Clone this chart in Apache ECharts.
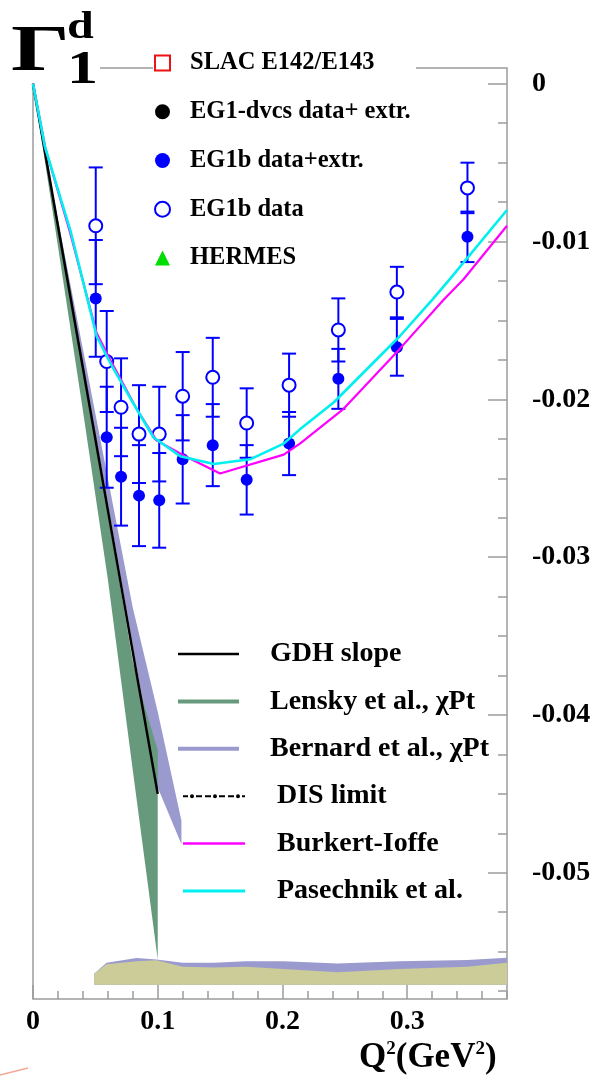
<!DOCTYPE html>
<html><head><meta charset="utf-8">
<script src="https://cdn.jsdelivr.net/npm/echarts@6.0.0/dist/echarts.min.js"></script>
<style>html,body{margin:0;padding:0;background:#fff}#c{width:601px;height:1076px}</style>
</head><body><div id="c"></div>
<script>
// ---------------- data ----------------
const q2Bins      = [0.0503, 0.0591, 0.0706, 0.0850, 0.1012, 0.1200, 0.1441, 0.1713, 0.2053, 0.2448, 0.2917, 0.3483];
const eg1bData    = [-0.0090, -0.0176, -0.0205, -0.0222, -0.0222, -0.0198, -0.0186, -0.0215, -0.0191, -0.0156, -0.0132, -0.0066];
const eg1bDataErr = [0.0037, 0.0032, 0.0031, 0.0031, 0.0030, 0.0028, 0.0025, 0.0022, 0.0020, 0.0020, 0.0016, 0.0016];
const eg1bExtr    = [-0.0136, -0.0224, -0.0249, -0.0261, -0.0264, -0.0238, -0.0229, -0.0251, -0.0228, -0.0187, -0.0167, -0.0097];
const eg1bExtrErr = [0.0037, 0.0032, 0.0031, 0.0032, 0.0030, 0.0028, 0.0026, 0.0022, 0.0020, 0.0019, 0.0018, 0.0016];

const gdhQ2  = [0, 0.1];
const gdhVal = [0, -0.0450];

const lenskyQ2   = [0, 0.02, 0.04, 0.06, 0.08, 0.09, 0.1];
const lenskyLow  = [0, -0.0103, -0.0207, -0.0314, -0.0435, -0.0495, -0.0555];
const lenskyHigh = [0, -0.0088, -0.0178, -0.0272, -0.0366, -0.0396, -0.0422];

const bernardQ2   = [0, 0.02, 0.04, 0.06, 0.08, 0.1, 0.119];
const bernardLow  = [0, -0.0090, -0.0178, -0.0266, -0.0356, -0.0446, -0.0482];
const bernardHigh = [0, -0.0086, -0.0168, -0.0250, -0.0332, -0.0398, -0.0467];

const burkertQ2  = [0, 0.01, 0.03, 0.051, 0.062, 0.083, 0.099, 0.122, 0.150, 0.201, 0.214, 0.249, 0.294, 0.329, 0.345, 0.38];
const burkertVal = [0, -0.0041, -0.0095, -0.0158, -0.0175, -0.0206, -0.0226, -0.0236, -0.0247, -0.0235, -0.0228, -0.0206, -0.0168, -0.0137, -0.0124, -0.0090];

const pasechnikQ2  = [0, 0.0096, 0.03, 0.051, 0.062, 0.080, 0.0965, 0.118, 0.145, 0.174, 0.201, 0.214, 0.241, 0.294, 0.320, 0.334, 0.38];
const pasechnikVal = [0, -0.0040, -0.0093, -0.0160, -0.0177, -0.0202, -0.0224, -0.0236, -0.0241, -0.0238, -0.0228, -0.0219, -0.0202, -0.0160, -0.0137, -0.0124, -0.0080];

const sysQ2       = [0.049, 0.059, 0.083, 0.099, 0.12, 0.145, 0.171, 0.201, 0.244, 0.294, 0.348, 0.38];
const sysBaseline = -0.0571;
const sysOlive    = [-0.0564, -0.0558, -0.0556, -0.05555, -0.05595, -0.0560, -0.05595, -0.0561, -0.0563, -0.0561, -0.05595, -0.0557];
const sysLavender = [-0.0564, -0.0557, -0.0554, -0.0555, -0.0557, -0.0557, -0.0556, -0.0556, -0.05575, -0.0556, -0.05553, -0.05538];

const legendMarkers = ['SLAC E142/E143', 'EG1-dvcs data+ extr.', 'EG1b data+extr.', 'EG1b data', 'HERMES'];
const legendLinesA  = ['GDH slope', 'Lensky et al., \u03C7Pt', 'Bernard et al., \u03C7Pt'];
const legendLinesB  = ['DIS limit', 'Burkert-Ioffe', 'Pasechnik et al.'];

// ---------------- layout / style ----------------
const SERIF = '"Liberation Serif", "DejaVu Serif", serif';
const AXC = '#9c9c9c';
const BLUE = '#0000ff', GREEN = '#679a7d', LAV = '#9a9ace', OLIVE = '#cccc99';
const MAG = '#ff00ff', CYAN = '#00f0f0';
const L = 33, R = 507, T = 68, B = 999;
const X_MIN = 0, X_MAX = 0.38, Y_MIN = -0.058, Y_MAX = 0.001;
function yPix(v) { return T + (Y_MAX - v) / (Y_MAX - Y_MIN) * (B - T); }

const zip = (a, b) => a.map((x, i) => [x, b[i]]);

function band(name, xs, lo, hi, color) {
  const low = i => (typeof lo === 'number' ? lo : lo[i]);
  return {
    type: 'custom', name: name, coordinateSystem: 'cartesian2d', xAxisIndex: 0, yAxisIndex: 0,
    itemStyle: { color: color, opacity: 1 }, silent: true,
    data: xs.map((x, i) => [x, low(i), hi[i]]),
    encode: { x: 0, y: [1, 2] },
    renderItem: function (params, api) {
      if (params.dataIndex !== 0) return null;
      const pts = [];
      for (let i = 0; i < xs.length; i++) pts.push(api.coord([xs[i], hi[i]]));
      for (let i = xs.length - 1; i >= 0; i--) pts.push(api.coord([xs[i], low(i)]));
      return { type: 'polygon', shape: { points: pts }, style: { fill: color } };
    }
  };
}
function errBars(name, xs, ys, es) {
  return {
    type: 'custom', name: name, coordinateSystem: 'cartesian2d', xAxisIndex: 0, yAxisIndex: 0, silent: true,
    itemStyle: { color: BLUE },
    data: xs.map((x, i) => [x, ys[i], es[i]]),
    encode: { x: 0, y: 1 },
    renderItem: function (params, api) {
      const x = api.value(0), y = api.value(1), e = api.value(2);
      const t = api.coord([x, y + e]), b = api.coord([x, y - e]);
      const w = 7, st = { stroke: BLUE, lineWidth: 2 };
      return { type: 'group', children: [
        { type: 'line', shape: { x1: t[0], y1: t[1], x2: b[0], y2: b[1] }, style: st },
        { type: 'line', shape: { x1: t[0] - w, y1: t[1], x2: t[0] + w, y2: t[1] }, style: st },
        { type: 'line', shape: { x1: b[0] - w, y1: b[1], x2: b[0] + w, y2: b[1] }, style: st }
      ]};
    }
  };
}
const disPath = 'path://M0,1H5V3H0Z M7,2A2,2 0 1 0 11,2A2,2 0 1 0 7,2Z M13,1H19V3H13Z M22,1H28V3H22Z M30,2A2,2 0 1 0 34,2A2,2 0 1 0 30,2Z M36,1H42V3H36Z M45,1H51V3H45Z M53,2A2,2 0 1 0 57,2A2,2 0 1 0 53,2Z M59,1H62V3H59Z';

const textBase = { fontFamily: SERIF, fontWeight: 'bold', color: '#000' };
const noLine = { show: false, onZero: false };

const option = {
  animation: false,
  grid: [
    { left: L, top: T, width: R - L, height: B - T, show: true, borderColor: AXC, borderWidth: 1.5, backgroundColor: 'transparent', outerBoundsMode: 'none', containLabel: false },
    { left: L, width: R - L, top: yPix(0), height: yPix(-0.05) - yPix(0), show: false, outerBoundsMode: 'none', containLabel: false },
    { left: L, width: R - L, top: yPix(0), height: yPix(-0.0575) - yPix(0), show: false, outerBoundsMode: 'none', containLabel: false }
  ],
  xAxis: [
    { gridIndex: 0, type: 'value', position: 'bottom', min: X_MIN, max: X_MAX, interval: 0.02,
      axisLine: noLine, splitLine: { show: false }, axisLabel: { show: false },
      axisTick: { show: true, inside: true, length: 8, lineStyle: { color: AXC, width: 1.5 } } },
    { gridIndex: 0, type: 'value', position: 'bottom', min: X_MIN, max: X_MAX, interval: 0.1,
      axisLine: noLine, splitLine: { show: false },
      axisTick: { show: true, inside: true, length: 14, lineStyle: { color: AXC, width: 1.5 } },
      axisLabel: Object.assign({ show: true, margin: 9, fontSize: 28, showMaxLabel: false, showMinLabel: true,
        formatter: v => (Math.abs(v) < 1e-9 ? '0' : v.toFixed(1)) }, textBase) },
    { gridIndex: 1, type: 'value', min: 0, max: 1, show: false, axisLine: noLine },
    { gridIndex: 2, type: 'value', min: 0, max: 1, show: false, axisLine: noLine }
  ],
  yAxis: [
    { gridIndex: 0, type: 'value', min: Y_MIN, max: Y_MAX, show: false, axisLine: noLine },
    { gridIndex: 1, type: 'value', position: 'right', min: -0.05, max: 0, interval: 0.01,
      axisLine: noLine, splitLine: { show: false },
      axisTick: { show: true, inside: true, length: 19, lineStyle: { color: AXC, width: 1.5 } },
      axisLabel: Object.assign({ show: true, margin: 25, fontSize: 28,
        formatter: v => (Math.abs(v) < 1e-9 ? '0' : v.toFixed(2)) }, textBase) },
    { gridIndex: 2, type: 'value', position: 'right', min: -0.0575, max: 0, interval: 0.0025,
      axisLine: noLine, splitLine: { show: false }, axisLabel: { show: false },
      axisTick: { show: true, inside: true, length: 9, lineStyle: { color: AXC, width: 1.5 } } }
  ],
  legend: [
    { orient: 'vertical', left: 154, top: 49, padding: 0, itemWidth: 15, itemHeight: 15, itemGap: 20.75,
      selectedMode: false,
      textStyle: Object.assign({ fontSize: 24.5, lineHeight: 28, padding: [0, 0, 0, 15] }, textBase),
      data: legendMarkers },
    { orient: 'vertical', left: 178, top: 639, padding: 0, itemWidth: 61, itemHeight: 14, itemGap: 17.4,
      selectedMode: false,
      textStyle: Object.assign({ fontSize: 28, lineHeight: 30, padding: [0, 0, 0, 26] }, textBase),
      data: [
        { name: legendLinesA[0], icon: 'path://M0,0H61V2.5H0Z', itemStyle: { color: '#000', opacity: 1 } },
        { name: legendLinesA[1], icon: 'path://M0,0H61V4H0Z', itemStyle: { color: GREEN, opacity: 1 } },
        { name: legendLinesA[2], icon: 'path://M0,0H61V4H0Z', itemStyle: { color: LAV, opacity: 1 } }
      ] },
    { orient: 'vertical', left: 183, top: 639 + 3 * 47.4, padding: 0, itemWidth: 62, itemHeight: 14, itemGap: 17.4,
      selectedMode: false,
      textStyle: Object.assign({ fontSize: 28, lineHeight: 30, padding: [0, 0, 0, 27] }, textBase),
      data: [
        { name: legendLinesB[0], icon: disPath, itemStyle: { color: '#000', opacity: 1 } },
        { name: legendLinesB[1], icon: 'path://M0,0H62V2.5H0Z', itemStyle: { color: MAG, opacity: 1 } },
        { name: legendLinesB[2], icon: 'path://M0,0H62V3H0Z', itemStyle: { color: CYAN, opacity: 1 } }
      ] }
  ],
  series: [
    band('sysLav', sysQ2, sysBaseline, sysLavender, LAV),
    band('sysOlive', sysQ2, sysBaseline, sysOlive, OLIVE),
    band(legendLinesA[2], bernardQ2, bernardLow, bernardHigh, LAV),
    band(legendLinesA[1], lenskyQ2, lenskyLow, lenskyHigh, GREEN),
    { type: 'line', name: legendLinesA[0], data: zip(gdhQ2, gdhVal), color: '#000', symbol: 'none',
      lineStyle: { color: '#000', width: 2.5 }, silent: true },
    errBars('errData', q2Bins, eg1bData, eg1bDataErr),
    errBars('errExtr', q2Bins, eg1bExtr, eg1bExtrErr),
    { type: 'scatter', name: legendMarkers[2], data: zip(q2Bins, eg1bExtr), symbol: 'circle', symbolSize: 12,
      itemStyle: { color: BLUE, opacity: 1 }, silent: true },
    { type: 'scatter', name: legendMarkers[3], data: zip(q2Bins, eg1bData), symbol: 'emptyCircle', symbolSize: 13,
      itemStyle: { color: BLUE, borderWidth: 2, opacity: 1 }, silent: true },
    { type: 'line', name: legendLinesB[1], data: zip(burkertQ2, burkertVal), color: MAG, symbol: 'none',
      lineStyle: { color: MAG, width: 2.2 }, silent: true },
    { type: 'line', name: legendLinesB[2], data: zip(pasechnikQ2, pasechnikVal), color: CYAN, symbol: 'none',
      lineStyle: { color: CYAN, width: 2.6 }, silent: true },
    { type: 'scatter', name: legendMarkers[0], data: [], symbol: 'emptyRect', color: '#ee1111', itemStyle: { color: '#ee1111', borderWidth: 2, opacity: 1 } },
    { type: 'scatter', name: legendMarkers[1], data: [], symbol: 'circle', color: '#000', itemStyle: { color: '#000', opacity: 1 } },
    { type: 'scatter', name: legendMarkers[4], data: [], symbol: 'triangle', color: '#00dd00', itemStyle: { color: '#00dd00', opacity: 1 } },
    { type: 'line', name: legendLinesB[0], data: [], color: '#000', symbol: 'none', lineStyle: { color: '#000', width: 2, type: 'dashed' } }
  ],
  graphic: [
    { type: 'rect', z: 3, shape: { x: 0, y: 0, width: 100, height: 83 }, style: { fill: '#fff' }, silent: true },
    { type: 'rect', z: 3, shape: { x: 153, y: 58, width: 263, height: 18 }, style: { fill: '#fff' }, silent: true },
    { type: 'text', z: 10, x: 11, y: 53, scaleX: 1.4, style: { text: '\u0393', fontFamily: SERIF, fontWeight: 'bold', fontSize: 66, fill: '#000', align: 'left', verticalAlign: 'middle' } },
    { type: 'text', z: 10, x: 67, y: 28, scaleX: 1.3, style: { text: 'd', fontFamily: SERIF, fontWeight: 'bold', fontSize: 37, fill: '#000', align: 'left', verticalAlign: 'middle' } },
    { type: 'text', z: 10, x: 67, y: 71, scaleX: 1.35, style: { text: '1', fontFamily: SERIF, fontWeight: 'bold', fontSize: 46, fill: '#000', align: 'left', verticalAlign: 'middle' } },
    { type: 'text', z: 10, x: 359, y: 1040, style: {
        text: '{m|Q}{s|2}{m|(GeV}{s|2}{m|)}', align: 'left', verticalAlign: 'top', fill: '#000',
        rich: {
          m: { fontFamily: SERIF, fontWeight: 'bold', fontSize: 35, lineHeight: 36, fill: '#000' },
          s: { fontFamily: SERIF, fontWeight: 'bold', fontSize: 19, lineHeight: 26, verticalAlign: 'top', fill: '#000' }
        } } },
    { type: 'line', z: 10, shape: { x1: 0, y1: 1075, x2: 28, y2: 1068 }, style: { stroke: '#f2a896', lineWidth: 1.5 }, silent: true }
  ]
};

const chart = echarts.init(document.getElementById('c'), null, { renderer: 'canvas' });
chart.setOption(option);
</script>
</body></html>
